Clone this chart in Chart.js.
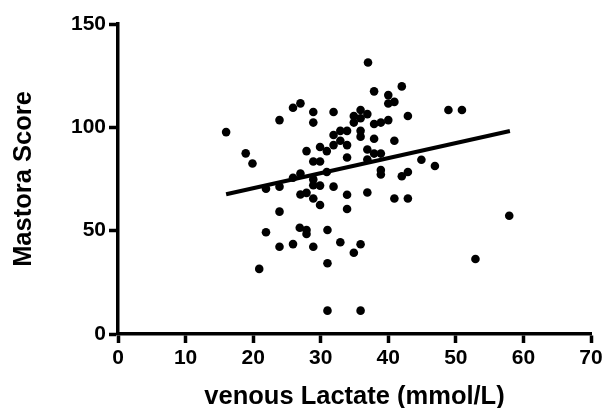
<!DOCTYPE html>
<html>
<head>
<meta charset="utf-8">
<script src="https://cdn.jsdelivr.net/npm/chart.js@4"></script>
<style>
  html, body { margin: 0; padding: 0; background: #fff; }
  #chart { display: block; }
</style>
</head>
<body>
<canvas id="chart" width="606" height="408"></canvas>
<script>
// venous lactate vs Mastora score, with fitted line
const lactate = [16.0, 18.9, 19.9, 23.9, 25.9, 27.0, 27.9, 21.9, 23.9, 25.9,
  27.0, 27.0, 27.9, 28.9, 28.9, 29.9, 28.9, 29.9, 28.9, 28.9,
  29.9, 31.9, 31.9, 37.0, 37.9, 40.0, 42.0, 40.0, 40.9, 42.9,
  48.9, 50.9, 34.9, 35.9, 35.9, 34.9, 36.9, 37.9, 38.9, 40.0,
  32.9, 33.9, 31.9, 32.9, 35.9, 35.9, 31.9, 33.9, 30.9, 37.9,
  40.9, 36.9, 37.9, 38.9, 33.9, 36.9, 44.9, 46.9, 38.9, 38.9,
  42.9, 42.0, 30.9, 33.9, 36.9, 40.9, 42.9, 28.9, 29.9, 33.9,
  23.9, 21.9, 26.9, 27.9, 27.9, 23.9, 25.9, 28.9, 20.9, 31.0,
  32.9, 35.9, 34.9, 31.0, 57.9, 52.9, 31.0, 35.9];
const mastora = [97.7, 87.4, 82.5, 103.5, 109.5, 111.6, 88.5, 70.3, 71.3, 75.6,
  77.6, 67.5, 68.3, 107.4, 102.3, 90.5, 83.5, 83.5, 74.8, 72.0,
  71.8, 71.3, 107.4, 131.4, 117.4, 115.6, 119.8, 111.5, 112.3, 105.5,
  108.4, 108.4, 105.5, 108.4, 104.4, 102.3, 106.4, 101.6, 102.3, 103.5,
  98.3, 98.3, 96.3, 93.5, 98.3, 95.5, 91.4, 91.4, 88.5, 94.5,
  93.5, 89.3, 87.3, 87.3, 85.4, 84.4, 84.3, 81.3, 79.3, 77.2,
  78.4, 76.3, 78.4, 67.4, 68.5, 65.6, 65.6, 65.6, 62.4, 60.5,
  59.2, 49.2, 51.4, 50.3, 48.4, 42.2, 43.5, 42.2, 31.5, 50.3,
  44.4, 43.4, 39.3, 34.2, 57.2, 36.3, 11.3, 11.3];
const fitX = [16, 58];
const fitY = [67.6, 98.2];
const xTicks = [0, 10, 20, 30, 40, 50, 60, 70];
const yTicks = [0, 50, 100, 150];

const fontFamily = "'Liberation Sans', Arial, sans-serif";

const points = lactate.map((x, i) => ({ x: x, y: mastora[i] }));
const fitLine = fitX.map((x, i) => ({ x: x, y: fitY[i] }));

function axis(min, max, ticks, title, titlePad) {
  return {
    type: 'linear',
    min: min,
    max: max,
    afterBuildTicks: s => { s.ticks = ticks.map(v => ({ value: v })); },
    grid: {
      drawOnChartArea: false,
      drawTicks: true,
      tickLength: 9,
      tickWidth: 3.5,
      tickColor: '#000',
      color: '#000'
    },
    border: { display: true, color: '#000', width: 3.5 },
    ticks: {
      color: '#000',
      padding: 3,
      font: { family: fontFamily, size: 21, weight: 'bold' }
    },
    title: {
      display: true,
      text: title,
      color: '#000',
      padding: titlePad,
      font: { family: fontFamily, size: 25.5, weight: 'bold', lineHeight: 1 }
    }
  };
}

const xAxis = axis(0, 70, xTicks, 'venous Lactate (mmol/L)', { top: 0, bottom: -2 });
xAxis.afterFit = s => { s.height = 74; };
const yAxis = axis(0, 150, yTicks, 'Mastora Score', { top: 11, bottom: 0 });
yAxis.afterFit = s => { s.width = 118; };

new Chart(document.getElementById('chart'), {
  type: 'scatter',
  data: {
    datasets: [
      {
        data: points,
        backgroundColor: '#000',
        borderColor: '#000',
        pointRadius: 4.3,
        pointBorderWidth: 0
      },
      {
        data: fitLine,
        showLine: true,
        borderColor: '#000',
        borderWidth: 4,
        pointRadius: 0
      }
    ]
  },
  options: {
    responsive: false,
    animation: false,
    layout: { padding: { top: 24, right: 15, left: 0, bottom: 0 } },
    plugins: { legend: { display: false }, tooltip: { enabled: false } },
    scales: { x: xAxis, y: yAxis }
  }
});
</script>
</body>
</html>
